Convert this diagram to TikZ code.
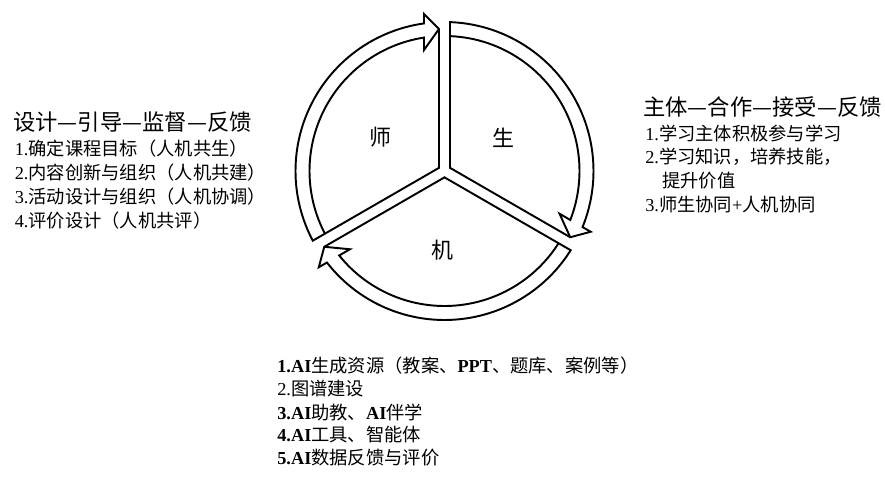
\documentclass[tikz,border=0pt]{standalone}
\usepackage{fontspec}
\setmainfont{Noto Sans CJK SC}
\newfontfamily\lat{Liberation Serif}
\usepackage{tikz}
\usetikzlibrary{calc,positioning}

\begin{document}
\begin{tikzpicture}[
    ring/.style={line width=1.1pt,black,line join=miter},
    lab/.style={font=\fontsize{12.5pt}{14pt}\selectfont},
    head/.style={anchor=west,inner sep=0pt,font=\fontsize{12.7pt}{15pt}\selectfont},
    item/.style={anchor=west,inner sep=0pt,font=\fontsize{10.4pt}{12pt}\selectfont}
  ]
    \useasboundingbox (-8.89,-6.18) rectangle (8.81,3.42);
    % one arrow band per sector, turned by 120 degrees
    \foreach \rot in {0,-120,120} {
      \begin{scope}[rotate=\rot]
        \coordinate (c) at (150:0.127);
        \coordinate (tip) at (-0.11,2.84);
        \draw[ring] (c) -- (tip) -- (-0.41,3.14) -- (97.9:2.98)
          arc[start angle=97.9,end angle=207.88,radius=2.98] -- cycle;
        \draw[ring] (tip) -- (-0.41,2.42) -- (98.73:2.70)
          arc[start angle=98.73,end angle=207.66,radius=2.70];
      \end{scope}
    }
    \node[lab] (shi) at (-1.29,0.68) {师};
    \node[lab] (sheng) at (1.17,0.66) {生};
    \node[lab] (ji) at (-0.05,-1.58) {机};
    % left
    \node[head] (lhead) at (-8.63,0.98) {设计—引导—监督—反馈};
    \foreach \i/\t in {1/确定课程目标（人机共生）,2/内容创新与组织（人机共建）,3/活动设计与组织（人机协调）,4/评价设计（人机共评）}
      \node[item] (l\i) at (-8.6,0.92-0.48*\i) {{\lat\i.}\t};
    % right
    \node[head] (rhead) at (3.97,1.28) {主体—合作—接受—反馈};
    \node[item] (r1) at (4.01,0.76) {{\lat 1.}学习主体积极参与学习};
    \node[item] (r2) at (4.01,0.28) {{\lat 2.}学习知识，培养技能，};
    \node[item] (r2b) at (4.35,-0.20) {提升价值};
    \node[item] (r3) at (4.01,-0.68) {{\lat 3.}师生协同{\lat +}人机协同};
    % bottom
    \node[item] (b1) at (-3.35,-3.90) {{\lat\bfseries 1.AI}生成资源（教案、{\lat\bfseries PPT}、题库、案例等）};
    \node[item] (b2) at (-3.35,-4.36) {{\lat 2.}图谱建设};
    \node[item] (b3) at (-3.35,-4.82) {{\lat\bfseries 3.AI}助教、{\lat\bfseries AI}伴学};
    \node[item] (b4) at (-3.35,-5.28) {{\lat\bfseries 4.AI}工具、智能体};
    \node[item] (b5) at (-3.35,-5.74) {{\lat\bfseries 5.AI}数据反馈与评价};
\end{tikzpicture}
\end{document}
